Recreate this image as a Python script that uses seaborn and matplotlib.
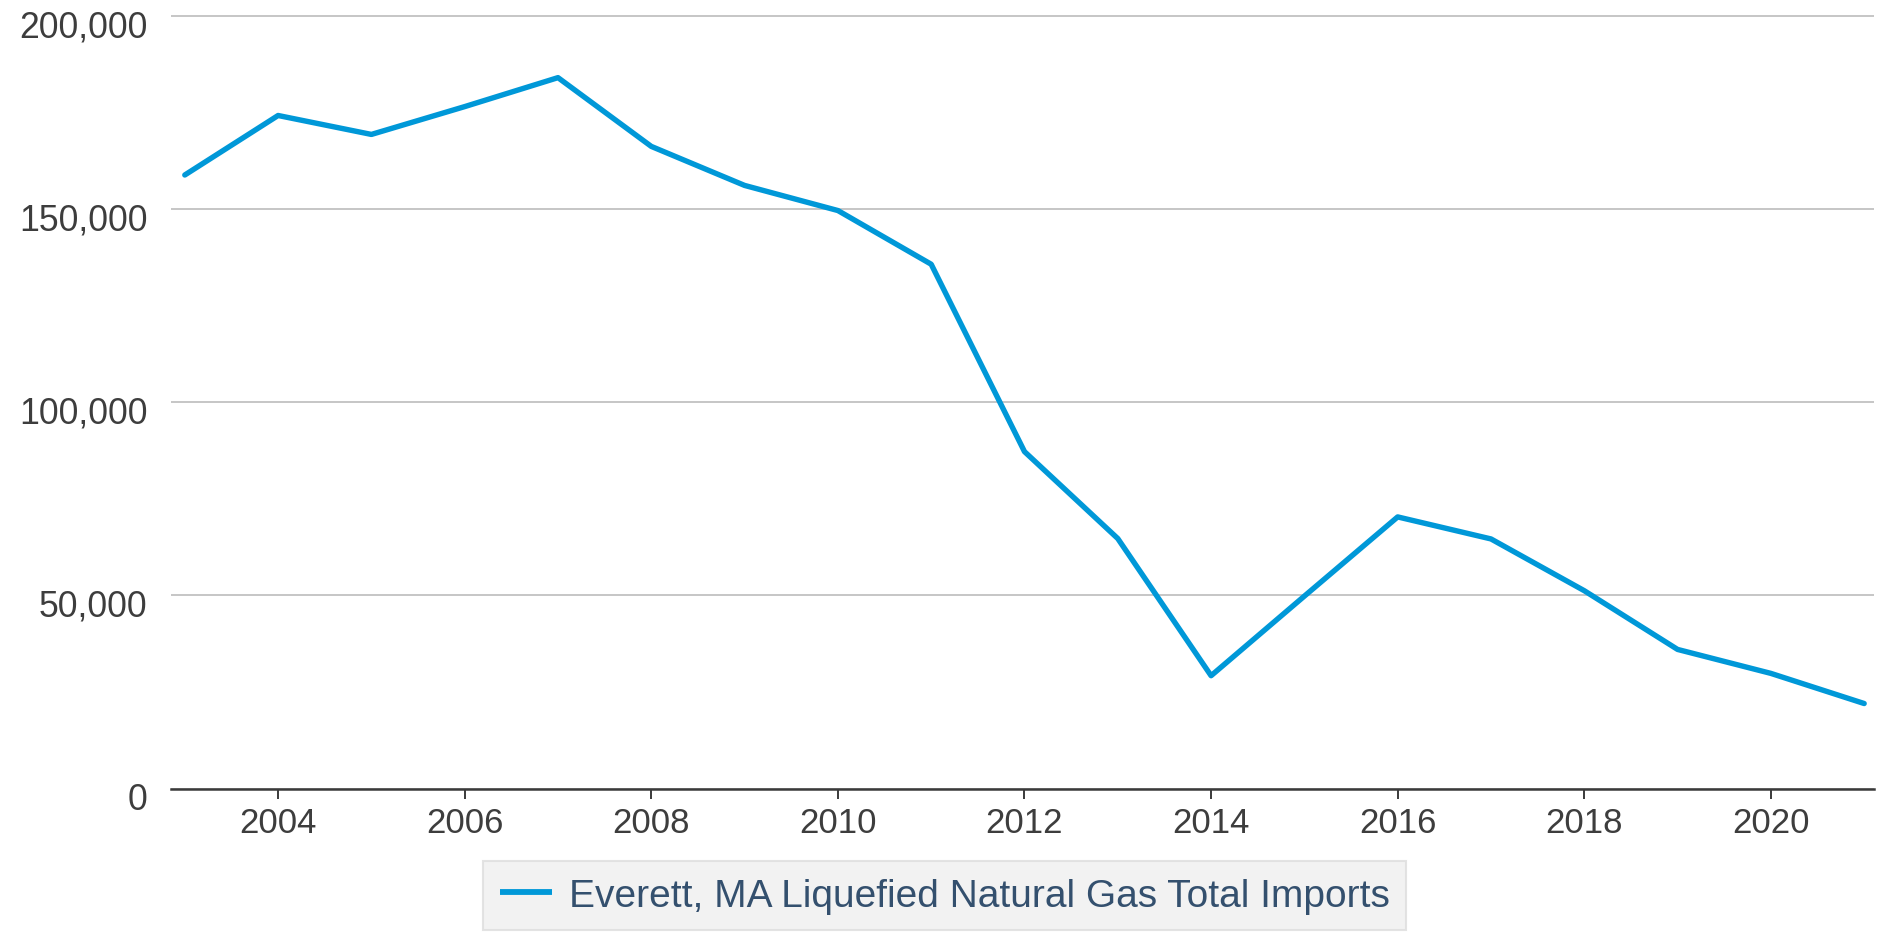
import matplotlib
matplotlib.use("Agg")
import matplotlib.pyplot as plt
from matplotlib.ticker import FuncFormatter, FixedLocator
from matplotlib.transforms import ScaledTranslation
import seaborn as sns
import pandas as pd

# Annual LNG imports at Everett, MA (million cubic feet)
years = list(range(2003, 2022))
imports = [158800, 174200, 169300, 176500, 184000, 166200, 156100, 149600,
           135700, 87200, 64700, 29200, 49800, 70300, 64600, 51200, 36000,
           29800, 22000]
series_name = "Everett, MA Liquefied Natural Gas Total Imports"
y_ticks = [0, 50000, 100000, 150000, 200000]
x_ticks = [2004, 2006, 2008, 2010, 2012, 2014, 2016, 2018, 2020]

df = pd.DataFrame({"year": years, "value": imports, "series": series_name})

sns.set_theme(style="white")
plt.rcParams["font.family"] = ["Liberation Sans", "DejaVu Sans"]

DPI = 100
fig = plt.figure(figsize=(18.78, 9.37), dpi=DPI)
ax = fig.add_axes([0.0911, 0.1574, 0.9068, 0.8329])

sns.lineplot(data=df, x="year", y="value", hue="series",
             palette=["#0098d8"], linewidth=3.9, ax=ax,
             solid_capstyle="round", solid_joinstyle="round", legend=True)

ax.set_xlim(2002.853, 2021.106)
ax.set_ylim(0, 202000)
ax.yaxis.set_major_locator(FixedLocator(y_ticks))
ax.xaxis.set_major_locator(FixedLocator(x_ticks))
ax.yaxis.set_major_formatter(FuncFormatter(lambda v, p: f"{v:,.0f}"))
ax.xaxis.set_major_formatter(FuncFormatter(lambda v, p: f"{int(v)}"))

ax.grid(axis="y", color="#c6c6c6", linewidth=1.4)
ax.grid(axis="x", visible=False)
ax.set_axisbelow(True)

for side in ("top", "right", "left"):
    ax.spines[side].set_visible(False)
ax.spines["bottom"].set_color("#3a3a3a")
ax.spines["bottom"].set_linewidth(1.8)
ax.spines["bottom"].set_zorder(3)

ax.tick_params(axis="x", direction="out", length=7.5, width=1.4,
               color="#3a3a3a", pad=5, labelsize=25, labelcolor="#3d3d3d",
               bottom=True)
ax.tick_params(axis="y", length=0, pad=17, labelsize=25.7, labelcolor="#3d3d3d")

offset = ScaledTranslation(0, -7 / DPI, fig.dpi_scale_trans)
for lbl in ax.get_yticklabels():
    lbl.set_transform(lbl.get_transform() + offset)

ax.set_xlabel("")
ax.set_ylabel("")

handles, labels = ax.get_legend_handles_labels()
leg = ax.legend(handles, labels, loc="center", bbox_to_anchor=(0.503, 0.0432),
                bbox_transform=fig.transFigure, frameon=True, fancybox=False,
                fontsize=28, handlelength=1.34, handletextpad=0.44,
                borderpad=0.42, labelcolor="#34506e")
leg.get_frame().set_facecolor("#efefef")
leg.get_frame().set_edgecolor("#dddddd")
leg.get_frame().set_linewidth(1.5)
for h in leg.get_lines():
    h.set_linewidth(4.2)
    h.set_solid_capstyle("butt")

fig.savefig("out.png", dpi=DPI)
